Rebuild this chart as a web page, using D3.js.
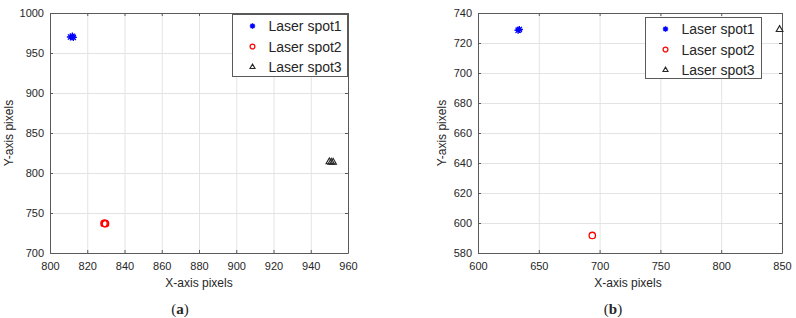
<!DOCTYPE html>
<html>
<head>
<meta charset="utf-8">
<script src="https://cdn.jsdelivr.net/npm/d3@7"></script>
<style>
  body { margin: 0; background: #fff; }
  svg text { font-family: "Liberation Sans", Arial, sans-serif; fill: #262626; }
</style>
</head>
<body>
<svg id="chart" width="796" height="318"></svg>
<script>
// series names
const seriesNames = ["Laser spot1", "Laser spot2", "Laser spot3"];

// panel (a) values
const spot1aX = [811, 812, 812.5];
const spot1aY = [970, 971, 969.5];
const spot2aX = [829, 829.5, 829.8];
const spot2aY = [737, 737, 736.6];
const spot3aX = [950, 951, 952];
const spot3aY = [814, 813.5, 813.5];
const ticksAX = [800, 820, 840, 860, 880, 900, 920, 940, 960];
const ticksAY = [700, 750, 800, 850, 900, 950, 1000];

// panel (b) values
const spot1bX = [633, 634];
const spot1bY = [728.5, 729];
const spot2bX = [694];
const spot2bY = [591.7];
const spot3bX = [848];
const spot3bY = [729];
const ticksBX = [600, 650, 700, 750, 800, 850];
const ticksBY = [580, 600, 620, 640, 660, 680, 700, 720, 740];

const colors = ["#0000ff", "#ff0000", "#262626"];
const axisColor = "#5a5a5a";

let svg = d3.select("#chart");

// marker shapes drawn around 0,0, k scales them (legend uses smaller ones)
function marker(g, i, k) {
    if (i === 0) {
        let r = 3.6 * k, q = 2.6 * k;
        g.append("path")
            .attr("d", `M${-r},0L${r},0M0,${-r}L0,${r}M${-q},${-q}L${q},${q}M${-q},${q}L${q},${-q}`)
            .attr("stroke", colors[0]).attr("stroke-width", 1.3).attr("fill", "none");
    } else if (i === 1) {
        g.append("circle").attr("r", 3.2 * k)
            .attr("stroke", colors[1]).attr("stroke-width", 1.3).attr("fill", "none");
    } else {
        g.append("path")
            .attr("d", d3.symbol(d3.symbolTriangle2, 32 * k * k)())
            .attr("stroke", colors[2]).attr("stroke-width", 1.1).attr("fill", "none");
    }
}

function drawPanel(p) {
    let width = p.right - p.left;
    let height = p.bottom - p.top;

    let x = d3.scaleLinear().domain(p.xDomain).range([0, width]);
    let y = d3.scaleLinear().domain(p.yDomain).range([height, 0]);

    let g = svg.append("g")
        .attr("transform", "translate(" + p.left + "," + p.top + ")");

    // grid
    g.append("g")
        .attr("transform", "translate(0," + height + ")")
        .call(d3.axisBottom(x).tickValues(p.xTicks).tickSize(-height).tickFormat(""))
        .call(a => a.select(".domain").remove())
        .selectAll("line").attr("stroke", "#e3e3e3");
    g.append("g")
        .call(d3.axisLeft(y).tickValues(p.yTicks).tickSize(-width).tickFormat(""))
        .call(a => a.select(".domain").remove())
        .selectAll("line").attr("stroke", "#e3e3e3");

    // axes, ticks pointing inward on all four sides
    let styleAxis = a => {
        a.select(".domain").attr("stroke", axisColor);
        a.selectAll(".tick line").attr("stroke", axisColor);
        a.selectAll("text").style("font-size", "11px").attr("fill", "#262626");
    };
    let fmt = d3.format("d");
    g.append("g")
        .attr("transform", "translate(0," + height + ")")
        .call(d3.axisBottom(x).tickValues(p.xTicks).tickFormat(fmt).tickSize(-3).tickPadding(9).tickSizeOuter(0))
        .call(styleAxis);
    g.append("g")
        .call(d3.axisTop(x).tickValues(p.xTicks).tickSize(-3).tickFormat("").tickSizeOuter(0))
        .call(styleAxis);
    g.append("g")
        .call(d3.axisLeft(y).tickValues(p.yTicks).tickFormat(fmt).tickSize(-3).tickPadding(6).tickSizeOuter(0))
        .call(styleAxis);
    g.append("g")
        .attr("transform", "translate(" + width + ",0)")
        .call(d3.axisRight(y).tickValues(p.yTicks).tickSize(-3).tickFormat("").tickSizeOuter(0))
        .call(styleAxis);

    // points
    p.series.forEach((s, i) => {
        s.x.forEach((xv, j) => {
            let m = g.append("g")
                .attr("transform", "translate(" + x(xv) + "," + y(s.y[j]) + ")");
            marker(m, i, 1);
        });
    });

    // axis labels
    svg.append("text")
        .attr("x", p.left + width / 2 + p.xLabelShift)
        .attr("y", 287)
        .attr("text-anchor", "middle")
        .style("font-size", "12px")
        .text("X-axis pixels");
    svg.append("text")
        .attr("transform", "translate(" + p.yLabelX + "," + (p.top + height / 2) + ") rotate(-90)")
        .attr("text-anchor", "middle")
        .style("font-size", "12px")
        .text("Y-axis pixels");

    // legend
    let lg = svg.append("g").attr("transform", "translate(" + p.legend.x + "," + p.legend.y + ")");
    lg.append("rect")
        .attr("width", p.legend.w).attr("height", p.legend.h)
        .attr("fill", "#fff").attr("stroke", axisColor).attr("stroke-width", 1);
    seriesNames.forEach((name, i) => {
        let row = lg.append("g").attr("transform", "translate(0," + (11.5 + i * 20.5) + ")");
        let m = row.append("g").attr("transform", "translate(20,0)");
        marker(m, i, 0.75);
        row.append("text")
            .attr("x", 36).attr("dy", "0.36em")
            .style("font-size", "14px")
            .text(name);
    });

    // caption
    let cap = svg.append("text")
        .attr("x", p.captionX).attr("y", 314)
        .attr("text-anchor", "middle")
        .style("font-family", "'Liberation Serif', 'Times New Roman', serif")
        .style("font-size", "15px")
        .attr("fill", "#000");
    cap.append("tspan").text("(");
    cap.append("tspan").style("font-weight", "bold").text(p.caption);
    cap.append("tspan").text(")");
}

drawPanel({
    left: 50, right: 348, top: 13, bottom: 253,
    xDomain: [800, 960], yDomain: [700, 1000],
    xTicks: ticksAX, yTicks: ticksAY,
    series: [
        {x: spot1aX, y: spot1aY},
        {x: spot2aX, y: spot2aY},
        {x: spot3aX, y: spot3aY}
    ],
    xLabelShift: 0, yLabelX: 13,
    legend: {x: 232.5, y: 14.5, w: 115, h: 62},
    caption: "a", captionX: 180
});

drawPanel({
    left: 478, right: 782, top: 13, bottom: 253,
    xDomain: [600, 850], yDomain: [580, 740],
    xTicks: ticksBX, yTicks: ticksBY,
    series: [
        {x: spot1bX, y: spot1bY},
        {x: spot2bX, y: spot2bY},
        {x: spot3bX, y: spot3bY}
    ],
    xLabelShift: -2, yLabelX: 446,
    legend: {x: 645.5, y: 17.5, w: 116, h: 61},
    caption: "b", captionX: 613
});
</script>
</body>
</html>
